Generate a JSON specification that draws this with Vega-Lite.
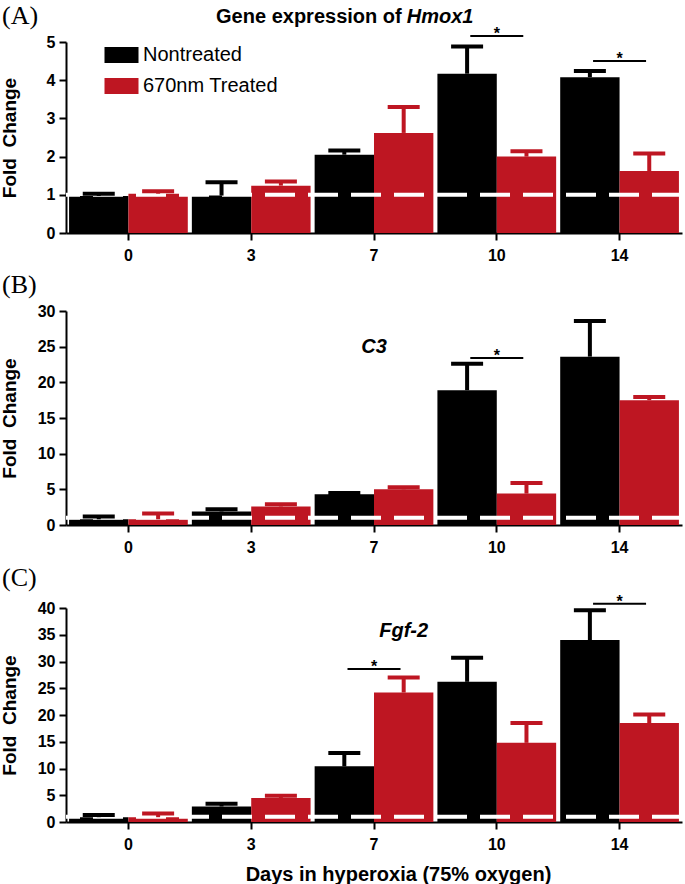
{
  "$schema": "https://vega.github.io/schema/vega-lite/v6.json",
  "padding": {"left": 0, "top": 2, "right": 0, "bottom": 0},
  "background": "white",
  "config": {
    "view": {"stroke": null},
    "font": "Liberation Sans",
    "axis": {"grid": false, "domainColor": "black", "domainWidth": 2, "tickColor": "black", "tickWidth": 2, "tickSize": 7, "labelFont": "Liberation Sans", "labelFontSize": 16, "labelFontWeight": "bold", "labelColor": "black", "titleFont": "Liberation Sans", "titleFontSize": 19, "titleFontWeight": "bold", "titleColor": "black"},
    "axisY": {"labelOverlap": false, "labelFlush": false},
    "title": {"font": "Liberation Serif", "fontSize": 26, "fontWeight": "normal", "anchor": "start", "frame": "group", "dx": -64, "color": "black"},
    "concat": {"spacing": 9}
  },
  "datasets": {
    "hmox1": [
      {"day": 0, "group": "Nontreated", "mean": 0.97, "upper": 1.03},
      {"day": 0, "group": "670nm Treated", "mean": 1.03, "upper": 1.09},
      {"day": 3, "group": "Nontreated", "mean": 0.98, "upper": 1.33},
      {"day": 3, "group": "670nm Treated", "mean": 1.24, "upper": 1.35},
      {"day": 7, "group": "Nontreated", "mean": 2.05, "upper": 2.16},
      {"day": 7, "group": "670nm Treated", "mean": 2.62, "upper": 3.3},
      {"day": 10, "group": "Nontreated", "mean": 4.17, "upper": 4.88},
      {"day": 10, "group": "670nm Treated", "mean": 2.0, "upper": 2.14},
      {"day": 14, "group": "Nontreated", "mean": 4.08, "upper": 4.24},
      {"day": 14, "group": "670nm Treated", "mean": 1.62, "upper": 2.08}
    ],
    "c3": [
      {"day": 0, "group": "Nontreated", "mean": 0.8, "upper": 1.2},
      {"day": 0, "group": "670nm Treated", "mean": 0.8, "upper": 1.6},
      {"day": 3, "group": "Nontreated", "mean": 1.9, "upper": 2.2},
      {"day": 3, "group": "670nm Treated", "mean": 2.6, "upper": 2.9},
      {"day": 7, "group": "Nontreated", "mean": 4.3, "upper": 4.5},
      {"day": 7, "group": "670nm Treated", "mean": 5.0, "upper": 5.3},
      {"day": 10, "group": "Nontreated", "mean": 18.9, "upper": 22.6},
      {"day": 10, "group": "670nm Treated", "mean": 4.4, "upper": 5.9},
      {"day": 14, "group": "Nontreated", "mean": 23.6, "upper": 28.6},
      {"day": 14, "group": "670nm Treated", "mean": 17.5, "upper": 17.95}
    ],
    "fgf2": [
      {"day": 0, "group": "Nontreated", "mean": 0.9, "upper": 1.3},
      {"day": 0, "group": "670nm Treated", "mean": 0.9, "upper": 1.6},
      {"day": 3, "group": "Nontreated", "mean": 2.9, "upper": 3.4},
      {"day": 3, "group": "670nm Treated", "mean": 4.5, "upper": 4.9},
      {"day": 7, "group": "Nontreated", "mean": 10.4, "upper": 12.9},
      {"day": 7, "group": "670nm Treated", "mean": 24.2, "upper": 27.0},
      {"day": 10, "group": "Nontreated", "mean": 26.2, "upper": 30.7},
      {"day": 10, "group": "670nm Treated", "mean": 14.8, "upper": 18.5},
      {"day": 14, "group": "Nontreated", "mean": 34.0, "upper": 39.6},
      {"day": 14, "group": "670nm Treated", "mean": 18.5, "upper": 20.1}
    ],
    "sigA": [{"day": 10, "y": 5.16}, {"day": 14, "y": 4.5}],
    "sigB": [{"day": 10, "y": 23.4}],
    "sigC": [{"day": 7, "y": 28.6}, {"day": 14, "y": 40.8}],
    "refline": [{"ref": 1}],
    "labA": [{"day": 7, "group": "670nm Treated", "y": 5.5, "t1": "Gene expression of", "t2": "Hmox1"}],
    "labB": [{"day": 7, "y": 25, "label": "C3"}],
    "labC": [{"day": 7, "group": "670nm Treated", "y": 35.7, "label": "Fgf-2"}]
  },
  "resolve": {"scale": {"color": "independent", "y": "independent"}},
  "vconcat": [
    {
      "width": 616, "height": 191,
      "title": {"text": "(A)", "offset": -22},
      "layer": [
        {
          "data": {"name": "hmox1"},
          "mark": {"type": "bar"},
          "encoding": {
            "x": {"field": "day", "type": "ordinal", "scale": {"paddingInner": 0.033, "paddingOuter": 0.025}, "axis": {"title": null, "labelAngle": 0, "labelPadding": 7}},
            "xOffset": {"field": "group", "type": "nominal", "sort": ["Nontreated", "670nm Treated"], "scale": {"domain": ["Nontreated", "670nm Treated"], "paddingInner": 0, "paddingOuter": 0}},
            "y": {"field": "mean", "type": "quantitative", "scale": {"domain": [0, 5], "nice": false}, "axis": {"values": [0, 1, 2, 3, 4, 5], "tickCount": 6, "labelOverlap": false, "title": "Fold\u00a0\u00a0Change", "titleX": -47, "labelPadding": 4}},
            "color": {"field": "group", "type": "nominal", "scale": {"domain": ["Nontreated", "670nm Treated"], "range": ["#000000", "#be1622"]},
              "legend": {"title": null, "orient": "none", "legendX": 45.5, "legendY": 3, "symbolType": "M-2,-0.94H2V0.94H-2Z", "symbolSize": 289, "symbolStrokeWidth": 0, "labelFontSize": 20, "labelFont": "Liberation Sans", "labelFontWeight": "normal", "labelColor": "black", "labelOffset": 11.5, "rowPadding": 11, "padding": 0}}
          }
        },
        {
          "data": {"name": "refline"},
          "mark": {"type": "rule", "color": "white", "strokeWidth": 4, "strokeDash": [30, 13]},
          "encoding": {"y": {"field": "ref", "type": "quantitative"}}
        },
        {
          "data": {"name": "hmox1"},
          "mark": {"type": "rule", "strokeWidth": 4},
          "encoding": {
            "x": {"field": "day", "type": "ordinal"},
            "xOffset": {"field": "group", "type": "nominal"},
            "y": {"field": "mean", "type": "quantitative"},
            "y2": {"field": "upper"},
            "color": {"field": "group", "type": "nominal", "legend": null}
          }
        },
        {
          "data": {"name": "hmox1"},
          "mark": {"type": "tick", "orient": "horizontal", "size": 32, "thickness": 4, "opacity": 1},
          "encoding": {
            "x": {"field": "day", "type": "ordinal"},
            "xOffset": {"field": "group", "type": "nominal"},
            "y": {"field": "upper", "type": "quantitative"},
            "color": {"field": "group", "type": "nominal", "legend": null}
          }
        },
        {
          "data": {"name": "sigA"},
          "mark": {"type": "tick", "orient": "horizontal", "size": 53, "thickness": 2, "color": "black", "opacity": 1},
          "encoding": {"x": {"field": "day", "type": "ordinal"}, "y": {"field": "y", "type": "quantitative"}}
        },
        {
          "data": {"name": "sigA"},
          "mark": {"type": "text", "text": "*", "fontSize": 16, "fontWeight": "bold", "dy": 3, "baseline": "alphabetic", "color": "black"},
          "encoding": {"x": {"field": "day", "type": "ordinal"}, "y": {"field": "y", "type": "quantitative"}}
        },
        {
          "data": {"name": "labA"},
          "mark": {"type": "text", "fontSize": 20, "fontWeight": "bold", "align": "right", "baseline": "alphabetic", "dx": -2, "color": "black"},
          "encoding": {"x": {"field": "day", "type": "ordinal"}, "xOffset": {"field": "group", "type": "nominal"}, "y": {"field": "y", "type": "quantitative"}, "text": {"field": "t1"}}
        },
        {
          "data": {"name": "labA"},
          "mark": {"type": "text", "fontSize": 20, "fontWeight": "bold", "fontStyle": "italic", "align": "left", "baseline": "alphabetic", "dx": 3, "color": "black"},
          "encoding": {"x": {"field": "day", "type": "ordinal"}, "xOffset": {"field": "group", "type": "nominal"}, "y": {"field": "y", "type": "quantitative"}, "text": {"field": "t2"}}
        }
      ]
    },
    {
      "width": 616, "height": 214,
      "title": {"text": "(B)", "offset": 5},
      "layer": [
        {
          "data": {"name": "c3"},
          "mark": {"type": "bar"},
          "encoding": {
            "x": {"field": "day", "type": "ordinal", "scale": {"paddingInner": 0.033, "paddingOuter": 0.025}, "axis": {"title": null, "labelAngle": 0, "labelPadding": 7}},
            "xOffset": {"field": "group", "type": "nominal", "sort": ["Nontreated", "670nm Treated"], "scale": {"domain": ["Nontreated", "670nm Treated"], "paddingInner": 0, "paddingOuter": 0}},
            "y": {"field": "mean", "type": "quantitative", "scale": {"domain": [0, 30], "nice": false}, "axis": {"values": [0, 5, 10, 15, 20, 25, 30], "tickCount": 7, "labelOverlap": false, "title": "Fold\u00a0\u00a0Change", "titleX": -47, "labelPadding": 4}},
            "color": {"field": "group", "type": "nominal", "scale": {"domain": ["Nontreated", "670nm Treated"], "range": ["#000000", "#be1622"]}, "legend": null}
          }
        },
        {
          "data": {"name": "refline"},
          "mark": {"type": "rule", "color": "white", "strokeWidth": 4, "strokeDash": [30, 13]},
          "encoding": {"y": {"field": "ref", "type": "quantitative"}}
        },
        {
          "data": {"name": "c3"},
          "mark": {"type": "rule", "strokeWidth": 4},
          "encoding": {
            "x": {"field": "day", "type": "ordinal"},
            "xOffset": {"field": "group", "type": "nominal"},
            "y": {"field": "mean", "type": "quantitative"},
            "y2": {"field": "upper"},
            "color": {"field": "group", "type": "nominal", "legend": null}
          }
        },
        {
          "data": {"name": "c3"},
          "mark": {"type": "tick", "orient": "horizontal", "size": 32, "thickness": 4, "opacity": 1},
          "encoding": {
            "x": {"field": "day", "type": "ordinal"},
            "xOffset": {"field": "group", "type": "nominal"},
            "y": {"field": "upper", "type": "quantitative"},
            "color": {"field": "group", "type": "nominal", "legend": null}
          }
        },
        {
          "data": {"name": "sigB"},
          "mark": {"type": "tick", "orient": "horizontal", "size": 53, "thickness": 2, "color": "black", "opacity": 1},
          "encoding": {"x": {"field": "day", "type": "ordinal"}, "y": {"field": "y", "type": "quantitative"}}
        },
        {
          "data": {"name": "sigB"},
          "mark": {"type": "text", "text": "*", "fontSize": 16, "fontWeight": "bold", "dy": 3, "baseline": "alphabetic", "color": "black"},
          "encoding": {"x": {"field": "day", "type": "ordinal"}, "y": {"field": "y", "type": "quantitative"}}
        },
        {
          "data": {"name": "labB"},
          "mark": {"type": "text", "fontSize": 20, "fontWeight": "bold", "fontStyle": "italic", "baseline": "middle", "color": "black"},
          "encoding": {"x": {"field": "day", "type": "ordinal"}, "y": {"field": "y", "type": "quantitative"}, "text": {"field": "label"}}
        }
      ]
    },
    {
      "width": 616, "height": 214,
      "title": {"text": "(C)", "offset": 3},
      "layer": [
        {
          "data": {"name": "fgf2"},
          "mark": {"type": "bar"},
          "encoding": {
            "x": {"field": "day", "type": "ordinal", "scale": {"paddingInner": 0.033, "paddingOuter": 0.025}, "axis": {"title": "Days in hyperoxia (75% oxygen)", "titleFontSize": 20, "titleX": 332, "titlePadding": 12, "labelAngle": 0, "labelPadding": 7}},
            "xOffset": {"field": "group", "type": "nominal", "sort": ["Nontreated", "670nm Treated"], "scale": {"domain": ["Nontreated", "670nm Treated"], "paddingInner": 0, "paddingOuter": 0}},
            "y": {"field": "mean", "type": "quantitative", "scale": {"domain": [0, 40], "nice": false}, "axis": {"values": [0, 5, 10, 15, 20, 25, 30, 35, 40], "tickCount": 9, "labelOverlap": false, "title": "Fold\u00a0\u00a0Change", "titleX": -47, "labelPadding": 4}},
            "color": {"field": "group", "type": "nominal", "scale": {"domain": ["Nontreated", "670nm Treated"], "range": ["#000000", "#be1622"]}, "legend": null}
          }
        },
        {
          "data": {"name": "refline"},
          "mark": {"type": "rule", "color": "white", "strokeWidth": 4, "strokeDash": [30, 13]},
          "encoding": {"y": {"field": "ref", "type": "quantitative"}}
        },
        {
          "data": {"name": "fgf2"},
          "mark": {"type": "rule", "strokeWidth": 4},
          "encoding": {
            "x": {"field": "day", "type": "ordinal"},
            "xOffset": {"field": "group", "type": "nominal"},
            "y": {"field": "mean", "type": "quantitative"},
            "y2": {"field": "upper"},
            "color": {"field": "group", "type": "nominal", "legend": null}
          }
        },
        {
          "data": {"name": "fgf2"},
          "mark": {"type": "tick", "orient": "horizontal", "size": 32, "thickness": 4, "opacity": 1},
          "encoding": {
            "x": {"field": "day", "type": "ordinal"},
            "xOffset": {"field": "group", "type": "nominal"},
            "y": {"field": "upper", "type": "quantitative"},
            "color": {"field": "group", "type": "nominal", "legend": null}
          }
        },
        {
          "data": {"name": "sigC"},
          "mark": {"type": "tick", "orient": "horizontal", "size": 53, "thickness": 2, "color": "black", "opacity": 1},
          "encoding": {"x": {"field": "day", "type": "ordinal"}, "y": {"field": "y", "type": "quantitative"}}
        },
        {
          "data": {"name": "sigC"},
          "mark": {"type": "text", "text": "*", "fontSize": 16, "fontWeight": "bold", "dy": 3, "baseline": "alphabetic", "color": "black"},
          "encoding": {"x": {"field": "day", "type": "ordinal"}, "y": {"field": "y", "type": "quantitative"}}
        },
        {
          "data": {"name": "labC"},
          "mark": {"type": "text", "fontSize": 20, "fontWeight": "bold", "fontStyle": "italic", "baseline": "middle", "color": "black"},
          "encoding": {"x": {"field": "day", "type": "ordinal"}, "xOffset": {"field": "group", "type": "nominal"}, "y": {"field": "y", "type": "quantitative"}, "text": {"field": "label"}}
        }
      ]
    }
  ]
}
